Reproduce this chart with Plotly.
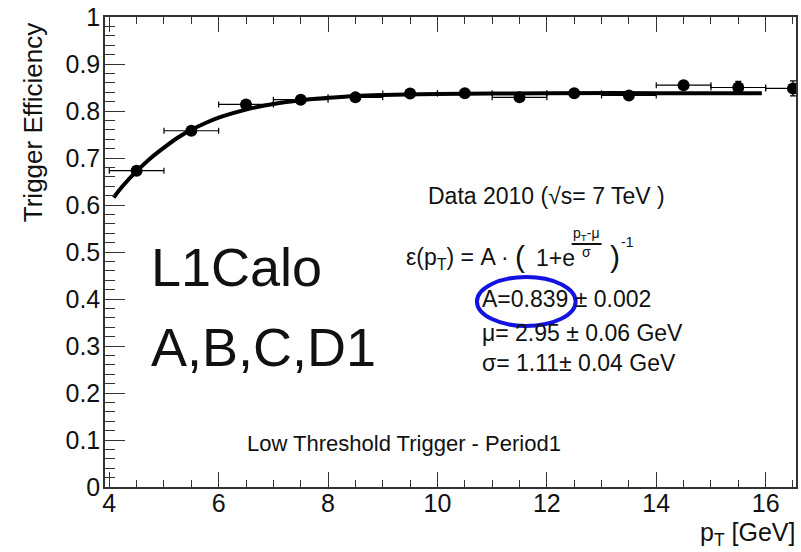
import plotly.graph_objects as go

# ---------------- data ----------------
pt_centers = [4.5, 5.5, 6.5, 7.5, 8.5, 9.5, 10.5, 11.5, 12.5, 13.5, 14.5, 15.5, 16.5]
efficiency = [0.673, 0.758, 0.814, 0.824, 0.829, 0.837, 0.838, 0.829, 0.838, 0.833, 0.855, 0.850, 0.848]
pt_halfwidth = [0.5] * 13
eff_err = [0.006, 0.005, 0.004, 0.004, 0.004, 0.004, 0.005, 0.006, 0.006, 0.007, 0.009, 0.013, 0.016]

fit_pt = [4.08, 4.25, 4.5, 4.75, 5.0, 5.25, 5.5, 5.75, 6.0, 6.5, 7.0, 7.5, 8.0, 8.5, 9.0,
          10.0, 11.0, 12.0, 14.0, 15.93]
fit_eff = [0.616, 0.641, 0.672, 0.699, 0.722, 0.743, 0.760, 0.774, 0.786, 0.803, 0.815, 0.823,
           0.828, 0.832, 0.834, 0.836, 0.837, 0.838, 0.838, 0.838]

x_tick_vals = [4, 6, 8, 10, 12, 14, 16]
x_tick_text = ["4", "6", "8", "10", "12", "14", "16"]
y_tick_vals = [0, 0.1, 0.2, 0.3, 0.4, 0.5, 0.6, 0.7, 0.8, 0.9, 1.0]
y_tick_text = ["0", "0.1", "0.2", "0.3", "0.4", "0.5", "0.6", "0.7", "0.8", "0.9", "1"]

# ---------------- layout geometry ----------------
W, H = 801, 552
ML, MR, MT, MB = 105, 3, 17, 65
PW, PH = W - ML - MR, H - MT - MB
FONT = "Liberation Sans, Arial, sans-serif"
TXT = "#111111"
AX = "#333333"


def px(xp, yp):
    return (xp - ML) / PW, (H - MB - yp) / PH


fig = go.Figure()

fig.add_trace(go.Scatter(
    x=fit_pt, y=fit_eff, mode="lines", line=dict(color="black", width=4, shape="spline"),
    hoverinfo="skip", showlegend=False))

fig.add_trace(go.Scatter(
    x=pt_centers, y=efficiency, mode="markers",
    marker=dict(color="black", size=12),
    error_x=dict(type="data", array=pt_halfwidth, color="black", thickness=1.2, width=3),
    error_y=dict(type="data", array=eff_err, color="black", thickness=1.2, width=3),
    showlegend=False))

ann = []


def add_text(text, xp, yp, size, xanchor="left", yanchor="middle", angle=0):
    x, y = px(xp, yp)
    ann.append(dict(text=text, x=x, y=y, xref="paper", yref="paper", showarrow=False,
                    xanchor=xanchor, yanchor=yanchor, textangle=angle,
                    font=dict(family=FONT, size=size, color=TXT)))


add_text("Trigger Efficiency", 33, 123, 26, xanchor="center", angle=-90)
add_text("p<sub>T</sub> [GeV]", 799, 534, 25, xanchor="right")
add_text("L1Calo", 149, 267, 54)
add_text("A,B,C,D1", 149, 347, 54)
add_text("Low Threshold Trigger - Period1", 245, 443, 22)
add_text("Data 2010 (√s= 7 TeV )", 548, 196, 23, xanchor="center")
add_text("ε(p<sub>T</sub>) = A ·", 405, 258, 23)
add_text("(", 521, 256, 30, xanchor="center")
add_text("1+e", 535, 258, 23)
add_text("p<sub>T</sub>-μ", 588, 234, 14, xanchor="center")
add_text("σ", 588, 252, 14, xanchor="center")
add_text(")", 616, 256, 30, xanchor="center")
add_text("-1", 629, 242, 14, xanchor="center")
add_text("A=0.839 ± 0.002", 481, 299, 23)
add_text("μ= 2.95 ± 0.06 GeV", 481, 333, 23)
add_text("σ= 1.11± 0.04 GeV", 481, 363, 23)

shapes = []
fx0, fy = px(573, 244)
fx1, _ = px(603, 244)
shapes.append(dict(type="line", xref="paper", yref="paper", x0=fx0, x1=fx1, y0=fy, y1=fy,
                   line=dict(color=TXT, width=2)))
ex0, ey0 = px(478, 326)
ex1, ey1 = px(577, 277)
shapes.append(dict(type="circle", xref="paper", yref="paper", x0=ex0, x1=ex1, y0=ey0, y1=ey1,
                   line=dict(color="rgb(18,18,225)", width=4)))

fig.update_layout(
    width=W, height=H,
    margin=dict(l=ML, r=MR, t=MT, b=MB, pad=0),
    paper_bgcolor="white", plot_bgcolor="white",
    font=dict(family=FONT, color=TXT),
    annotations=ann, shapes=shapes,
    xaxis=dict(range=[3.922, 16.555], tickvals=x_tick_vals, ticktext=x_tick_text,
               ticks="inside", ticklen=15, tickwidth=1.2, tickcolor=AX, ticklabelstandoff=-7,
               minor=dict(dtick=0.5, tick0=0, ticks="inside", ticklen=7, tickwidth=1.2, tickcolor=AX),
               showline=True, linecolor=AX, linewidth=1.5, mirror="allticks",
               showgrid=False, zeroline=False, tickfont=dict(size=25, family=FONT, color=TXT)),
    yaxis=dict(range=[0, 1], tickvals=y_tick_vals, ticktext=y_tick_text,
               ticks="inside", ticklen=20, tickwidth=1.2, tickcolor=AX, ticklabelstandoff=-2,
               minor=dict(dtick=0.02, tick0=0, ticks="inside", ticklen=10, tickwidth=1.2, tickcolor=AX),
               showline=True, linecolor=AX, linewidth=1.5, mirror=True,
               showgrid=False, zeroline=False, tickfont=dict(size=25, family=FONT, color=TXT)),
)

fig.write_html("out.html")
